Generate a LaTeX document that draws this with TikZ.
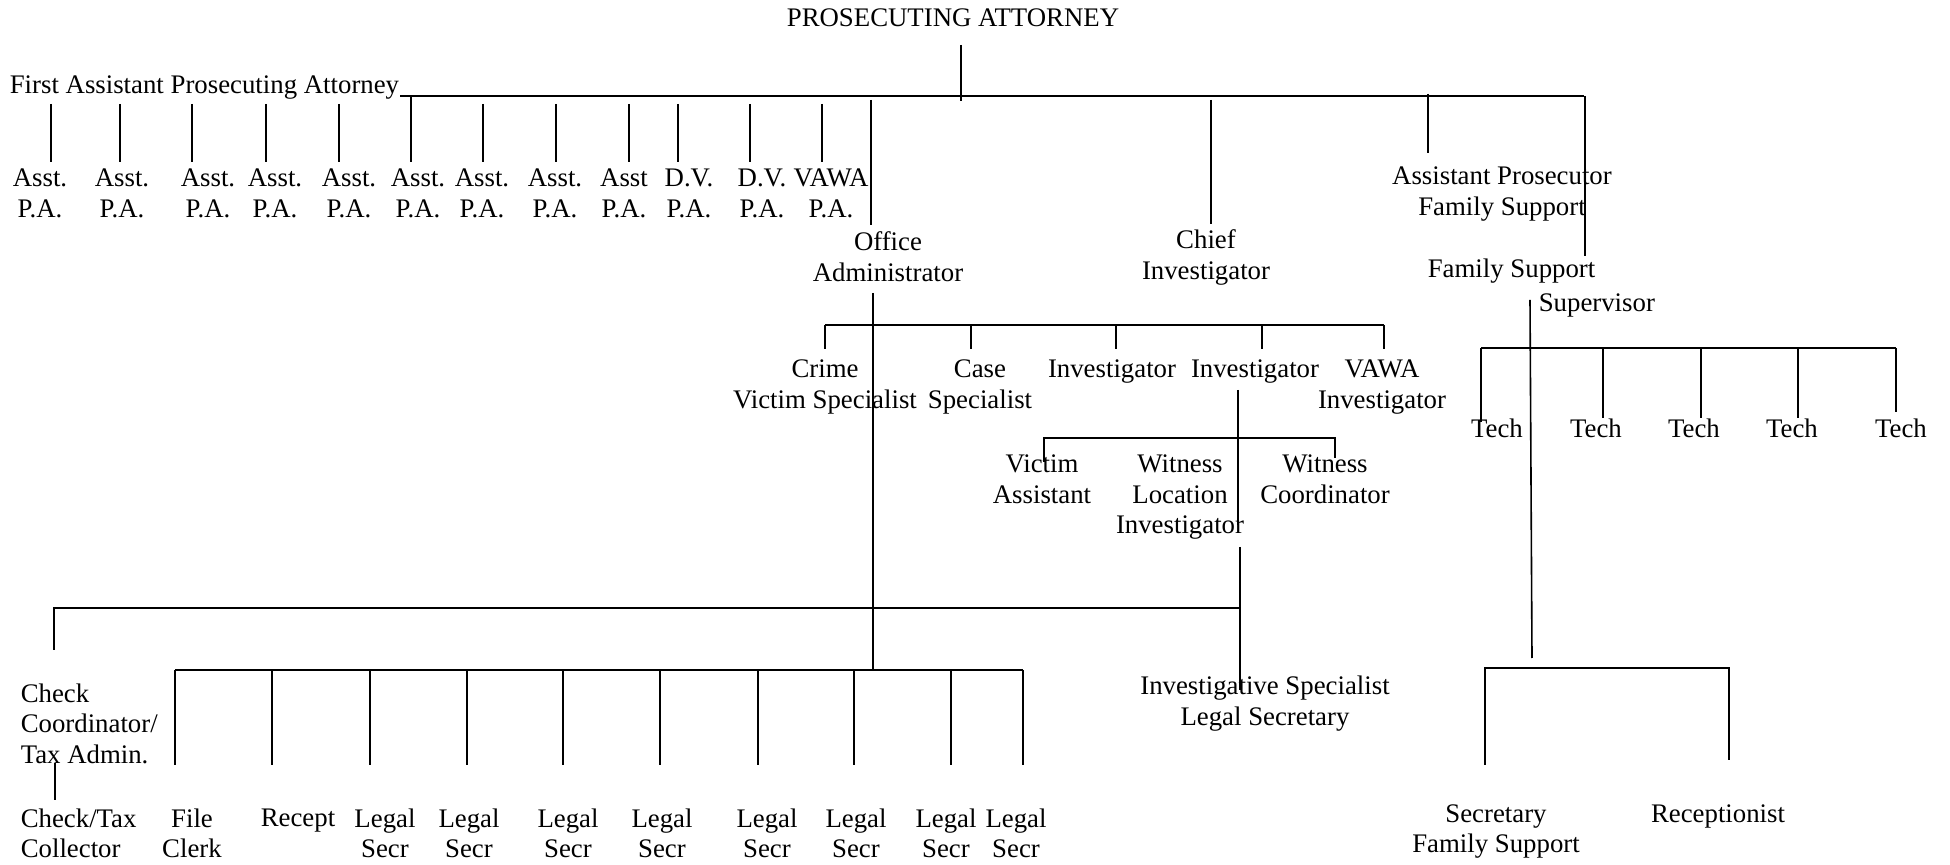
\documentclass[tikz,border=0pt]{standalone}
\usepackage{fontspec}
\setmainfont{Liberation Serif}
\begin{document}
\begin{tikzpicture}[x=0.5pt,y=0.5pt,yscale=-1,xscale=1,line width=0.8pt,
  every node/.style={inner sep=0pt,font=\fontsize{13.4}{15.25}\selectfont},
  post/.style={anchor=base,align=center},
  postl/.style={anchor=base west,align=left}]
\useasboundingbox (0,0) rectangle (1950,865);

% Text Node (base = last line)
\node[post] (pa) at (953,27) {PROSECUTING ATTORNEY};
% Text Node
\node[postl] (fapa) at (9,94) {First Assistant Prosecuting Attorney};
% Text Node
\node[post] (apa1) at (40,217.5) {Asst.\\P.A.};
\node[post] (apa2) at (122,217.5) {Asst.\\P.A.};
\node[post] (apa3) at (208,217.5) {Asst.\\P.A.};
\node[post] (apa4) at (275,217.5) {Asst.\\P.A.};
\node[post] (apa5) at (349,217.5) {Asst.\\P.A.};
\node[post] (apa6) at (418,217.5) {Asst.\\P.A.};
\node[post] (apa7) at (482,217.5) {Asst.\\P.A.};
\node[post] (apa8) at (555,217.5) {Asst.\\P.A.};
\node[post] (apa9) at (624,217.5) {Asst\\P.A.};
\node[post] (dvpa1) at (689,217.5) {D.V.\\P.A.};
\node[post] (dvpa2) at (762,217.5) {D.V.\\P.A.};
\node[post] (vawapa) at (831,217.5) {VAWA\\P.A.};
% Text Node
\node[post] (offadm) at (888,281.5) {Office\\Administrator};
\node[post] (chief) at (1206,279.5) {Chief\\Investigator};
\node[post] (apfs) at (1502,215.5) {Assistant Prosecutor\\Family Support};
\node[postl] (fssup) at (1427,312) {Family Support\\[1.75pt]\hspace*{55.5pt}Supervisor};
% Text Node
\node[post] (crime) at (825,408.5) {Crime\\Victim Specialist};
\node[post] (casesp) at (980,408.5) {Case\\Specialist};
\node[post] (inv1) at (1112,378) {Investigator};
\node[post] (inv2) at (1255,378) {Investigator};
\node[post] (vawainv) at (1382,408.5) {VAWA\\Investigator};
% Text Node
\node[post] (victim) at (1042,503.5) {Victim\\Assistant};
\node[post] (witloc) at (1180,534) {Witness\\Location\\Investigator};
\node[post] (witco) at (1325,503.5) {Witness\\Coordinator};
% Text Node
\node[postl] (checkco) at (20,763) {Check\\Coordinator/\\Tax Admin.};
\node[postl] (checktax) at (20,857.5) {Check/Tax\\Collector};
\node[post] (file) at (192,857.5) {File\\Clerk};
\node[post] (recept) at (298,827) {Recept};
\node[post] (legal1) at (385,857.5) {Legal\\Secr};
\node[post] (legal2) at (469,857.5) {Legal\\Secr};
\node[post] (legal3) at (568,857.5) {Legal\\Secr};
\node[post] (legal4) at (662,857.5) {Legal\\Secr};
\node[post] (legal5) at (767,857.5) {Legal\\Secr};
\node[post] (legal6) at (856,857.5) {Legal\\Secr};
\node[post] (legal7) at (946,857.5) {Legal\\Secr};
\node[post] (legal8) at (1016,857.5) {Legal\\Secr};
\node[post] (invspec) at (1265,725.5) {Investigative Specialist\\Legal Secretary};
% Text Node
\node[post] (tech1) at (1497,438) {Tech};
\node[post] (tech2) at (1596,438) {Tech};
\node[post] (tech3) at (1694,438) {Tech};
\node[post] (tech4) at (1792,438) {Tech};
\node[post] (tech5) at (1901,438) {Tech};
\node[post] (secfs) at (1496,852.5) {Secretary\\Family Support};
\node[post] (recep) at (1718,822) {Receptionist};

%Straight Lines
\coordinate (pa-a) at (961,45);
\coordinate (pa-b) at (961,101);
\draw (pa-a) -- (pa-b);
\coordinate (bus-l) at (400,96);
\coordinate (bus-r) at (1584,96);
\draw (bus-l) -- (bus-r);

%Straight Lines
\coordinate (asst-top) at (0,104);
\coordinate (asst-end1) at (51,162);
\coordinate (asst-end2) at (120,162);
\coordinate (asst-end3) at (192,162);
\coordinate (asst-end4) at (266,162);
\coordinate (asst-end5) at (339,162);
\coordinate (asst-end6) at (411,162);
\coordinate (asst-end7) at (483,162);
\coordinate (asst-end8) at (556,162);
\coordinate (asst-end9) at (629,162);
\coordinate (asst-end10) at (678,162);
\coordinate (asst-end11) at (750,162);
\coordinate (asst-end12) at (822,162);
\draw (asst-end1 |- asst-top) -- (asst-end1);
\draw (asst-end2 |- asst-top) -- (asst-end2);
\draw (asst-end3 |- asst-top) -- (asst-end3);
\draw (asst-end4 |- asst-top) -- (asst-end4);
\draw (asst-end5 |- asst-top) -- (asst-end5);
\draw (asst-end6 |- bus-l) -- (asst-end6);
\draw (asst-end7 |- asst-top) -- (asst-end7);
\draw (asst-end8 |- asst-top) -- (asst-end8);
\draw (asst-end9 |- asst-top) -- (asst-end9);
\draw (asst-end10 |- asst-top) -- (asst-end10);
\draw (asst-end11 |- asst-top) -- (asst-end11);
\draw (asst-end12 |- asst-top) -- (asst-end12);

%Straight Lines
\coordinate (off-a) at (871,100);
\coordinate (off-b) at (871,225);
\coordinate (off-c) at (873,293);
\coordinate (off-d) at (873,670);
\draw (off-a) -- (off-b);
\draw (off-c) -- (off-d);
\coordinate (chf-a) at (1211,100);
\coordinate (chf-b) at (1211,224);
\draw (chf-a) -- (chf-b);
\coordinate (apfs-a) at (1428,94);
\coordinate (apfs-b) at (1428,153);
\draw (apfs-a) -- (apfs-b);
\coordinate (fs-a) at (1585,96);
\coordinate (fs-b) at (1585,256);
\draw (fs-a) -- (fs-b);

%Straight Lines
\coordinate (cbus-l) at (825,325);
\coordinate (cbus-r) at (1384,325);
\draw (cbus-l) -- (cbus-r);
\coordinate (crime-end) at (825,349);
\coordinate (case-end) at (971,349);
\coordinate (inv1-end) at (1116,349);
\coordinate (inv2-end) at (1262,349);
\coordinate (vawa-end) at (1384,349);
\draw (crime-end |- cbus-l) -- (crime-end);
\draw (case-end |- cbus-l) -- (case-end);
\draw (inv1-end |- cbus-l) -- (inv1-end);
\draw (inv2-end |- cbus-l) -- (inv2-end);
\draw (vawa-end |- cbus-l) -- (vawa-end);

%Straight Lines
\coordinate (inv2-a) at (1238,390);
\coordinate (inv2-b) at (1238,525);
\coordinate (inv2-c) at (1240,547);
\coordinate (inv2-d) at (1240,690);
\draw (inv2-a) -- (inv2-b);
\draw (inv2-c) -- (inv2-d);
\coordinate (vbus-l) at (1044,438);
\coordinate (vbus-r) at (1335,438);
\coordinate (victim-end) at (1044,462);
\coordinate (witco-end) at (1335,458);
\draw (victim-end) -- (vbus-l) -- (vbus-r) -- (witco-end);

%Straight Lines
\coordinate (chk-l) at (54,608);
\coordinate (chk-r) at (1240,608);
\coordinate (chk-end) at (54,650);
\draw (chk-end) -- (chk-l) -- (chk-r);
\coordinate (tax-a) at (55,763);
\coordinate (tax-b) at (55,800);
\draw (tax-a) -- (tax-b);

%Straight Lines
\coordinate (obus-l) at (175,670);
\coordinate (obus-r) at (1023,670);
\draw (obus-l) -- (obus-r);
\coordinate (file-end) at (175,765);
\coordinate (recept-end) at (272,765);
\coordinate (legal-end1) at (370,765);
\coordinate (legal-end2) at (467,765);
\coordinate (legal-end3) at (563,765);
\coordinate (legal-end4) at (660,765);
\coordinate (legal-end5) at (758,765);
\coordinate (legal-end6) at (854,765);
\coordinate (legal-end7) at (951,765);
\coordinate (legal-end8) at (1023,765);
\draw (file-end |- obus-l) -- (file-end);
\draw (recept-end |- obus-l) -- (recept-end);
\draw (legal-end1 |- obus-l) -- (legal-end1);
\draw (legal-end2 |- obus-l) -- (legal-end2);
\draw (legal-end3 |- obus-l) -- (legal-end3);
\draw (legal-end4 |- obus-l) -- (legal-end4);
\draw (legal-end5 |- obus-l) -- (legal-end5);
\draw (legal-end6 |- obus-l) -- (legal-end6);
\draw (legal-end7 |- obus-l) -- (legal-end7);
\draw (legal-end8 |- obus-l) -- (legal-end8);

%Straight Lines
\coordinate (sup-a) at (1530,300);
\coordinate (sup-b) at (1532,658);
\draw (sup-a) -- (sup-b);
\coordinate (tbus-l) at (1481,348);
\coordinate (tbus-r) at (1896,348);
\draw (tbus-l) -- (tbus-r);
\coordinate (tech-end1) at (1481,422);
\coordinate (tech-end2) at (1603,418);
\coordinate (tech-end3) at (1701,418);
\coordinate (tech-end4) at (1798,418);
\coordinate (tech-end5) at (1896,412);
\draw (tech-end1 |- tbus-l) -- (tech-end1);
\draw (tech-end2 |- tbus-l) -- (tech-end2);
\draw (tech-end3 |- tbus-l) -- (tech-end3);
\draw (tech-end4 |- tbus-l) -- (tech-end4);
\draw (tech-end5 |- tbus-l) -- (tech-end5);

%Straight Lines
\coordinate (sbus-l) at (1485,668);
\coordinate (sbus-r) at (1729,668);
\coordinate (secfs-end) at (1485,765);
\coordinate (recep-end) at (1729,760);
\draw (secfs-end) -- (sbus-l) -- (sbus-r) -- (recep-end);

\end{tikzpicture}
\end{document}
